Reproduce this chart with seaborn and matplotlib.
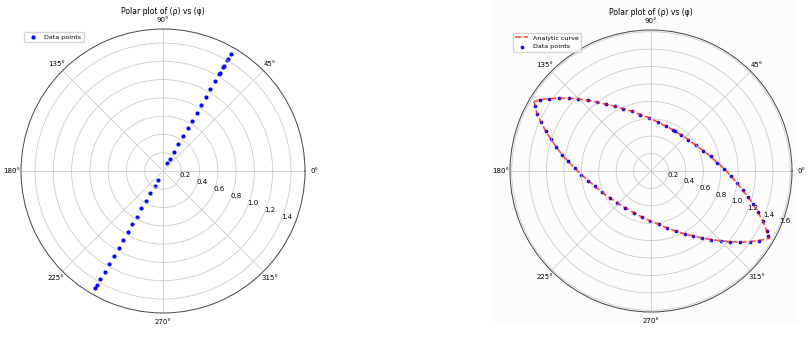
import numpy as np
import pandas as pd
import matplotlib
matplotlib.use("Agg")
import matplotlib.pyplot as plt
from matplotlib.patches import Rectangle
import seaborn as sns

# Grafica izquierda: puntos sobre una recta que pasa por el origen
left_phi_deg = [60] * 19 + [240] * 16
left_rho = [1.484, 1.420, 1.404, 1.332, 1.311, 1.242, 1.224, 1.138, 1.034, 0.934,
            0.834, 0.738, 0.634, 0.537, 0.436, 0.337, 0.238, 0.156, 0.098,
            0.109, 0.184, 0.275, 0.374, 0.473, 0.575, 0.669, 0.775, 0.871,
            0.972, 1.071, 1.173, 1.271, 1.368, 1.443, 1.484]

# Grafica derecha: puntos medidos (recorrido de la curva cerrada)
lower_phi_deg = [150.5, 153.3, 156.1, 159.2, 162.2, 165.6, 169.6, 173.4, 177.7, 183.1,
                 188.6, 195.4, 203.5, 212.7, 223.1, 235.3, 247.2, 258.9, 268.8, 278.2,
                 285.8, 292.3, 298.1, 303.1, 307.5, 311.3, 314.9, 318.2, 321.4, 324.4,
                 327.2]
lower_rho = [1.526, 1.467, 1.381, 1.295, 1.208, 1.127, 1.039, 0.956, 0.878, 0.801,
             0.731, 0.666, 0.614, 0.566, 0.533, 0.516, 0.518, 0.538, 0.572, 0.619,
             0.679, 0.746, 0.819, 0.892, 0.969, 1.050, 1.131, 1.219, 1.311, 1.395,
             1.476]
upper_phi_deg = [330.8, 332.7, 335.9, 338.9, 342.0, 344.9, 348.0, 352.2, 356.5, 1.7,
                 7.2, 13.8, 21.2, 29.5, 39.8, 50.7, 59.3, 61.9, 71.6, 82.3,
                 91.8, 100.6, 107.7, 114.0, 119.4, 124.1, 128.2, 131.8, 135.3, 138.5,
                 141.6, 144.7, 147.2]
upper_rho = [1.540, 1.493, 1.406, 1.317, 1.234, 1.157, 1.077, 0.993, 0.918, 0.844,
             0.767, 0.704, 0.645, 0.595, 0.560, 0.538, 0.534, 0.537, 0.542, 0.568,
             0.610, 0.659, 0.721, 0.784, 0.853, 0.929, 1.008, 1.088, 1.178, 1.260,
             1.347, 1.436, 1.516]
# Esquinas de la curva analitica
corner_phi_deg = [149.4, 330.5]
corner_rho = [1.563, 1.567]

df_left = pd.DataFrame({"phi": np.deg2rad(left_phi_deg), "rho": left_rho})
df_right = pd.DataFrame({"phi": np.deg2rad(lower_phi_deg + upper_phi_deg),
                         "rho": lower_rho + upper_rho})

curve_deg = [corner_phi_deg[0]] + lower_phi_deg + [corner_phi_deg[1]] + upper_phi_deg + [corner_phi_deg[0]]
curve_rho = [corner_rho[0]] + lower_rho + [corner_rho[1]] + upper_rho + [corner_rho[0]]
df_curve = pd.DataFrame({"phi": np.unwrap(np.deg2rad(curve_deg)), "rho": curve_rho})

plt.rcParams["font.family"] = ["DejaVu Sans"]
fig = plt.figure(figsize=(8.09, 3.53), dpi=100)
# fondo muy claro detras de la segunda grafica
fig.patches.append(Rectangle((492 / 809, 30 / 353), 306 / 809, 1.0, transform=fig.transFigure,
                             facecolor="#fcfcfc", edgecolor="none", zorder=-10))
ax1 = fig.add_axes([21 / 809, 40 / 353, 284 / 809, 284 / 353], projection="polar")
ax2 = fig.add_axes([510 / 809, 41 / 353, 282 / 809, 282 / 353], projection="polar")
ax2.set_facecolor("#fcfcfc")

sns.scatterplot(data=df_left, x="phi", y="rho", ax=ax1, color="blue", s=9,
                linewidth=0, label="Data points")

sns.lineplot(data=df_curve, x="phi", y="rho", ax=ax2, sort=False, estimator=None,
             color="red", alpha=0.7, linewidth=1.2, linestyle="--", label="Analytic curve")
sns.scatterplot(data=df_right, x="phi", y="rho", ax=ax2, color="blue", s=7,
                linewidth=0, label="Data points")

for ax in (ax1, ax2):
    ax.set_title("Polar plot of (ρ) vs (φ)", fontsize=5.5, pad=2)
    ax.set_xlabel("")
    ax.set_ylabel("")
    ax.set_rlabel_position(-22.5)
    ax.tick_params(axis="x", labelsize=5, pad=-4)
    ax.tick_params(axis="y", labelsize=5)
    ax.grid(True, color="#cccccc", linewidth=0.6)
    ax.spines["polar"].set_linewidth(0.7)
    ax.spines["polar"].set_color("#444444")
    ax.legend(loc="upper left", fontsize=4.6, frameon=True, borderaxespad=0.4,
              handlelength=2.0, markerscale=1.0)

fig.savefig("out.png", dpi=100)
